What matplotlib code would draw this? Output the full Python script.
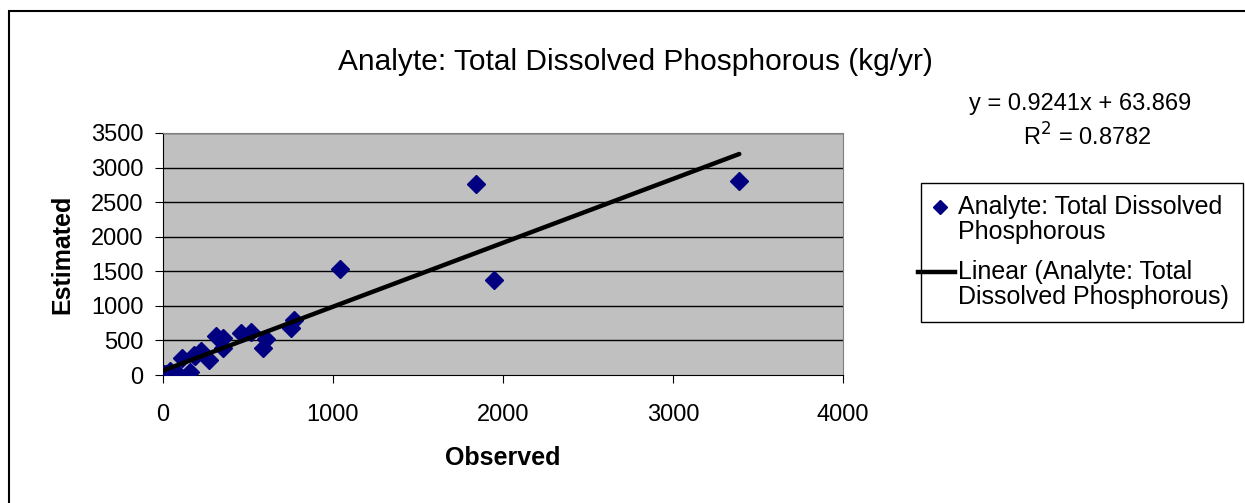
import numpy as np
import matplotlib.pyplot as plt
from matplotlib.patches import Rectangle
from matplotlib.lines import Line2D

plt.rcParams['font.family'] = ['Liberation Sans', 'DejaVu Sans']

# Observed vs estimated loads (kg/yr)
observed = [0, 5, 20, 40, 82, 110, 160, 185, 190, 225, 270, 310, 350, 355,
            460, 515, 590, 605, 750, 770, 1040, 1840, 1945, 3390]
estimated = [0, 10, 15, 55, 29, 250, 45, 290, 280, 340, 220, 560, 390, 540,
             610, 620, 385, 520, 680, 800, 1535, 2760, 1370, 2800]

# Excel linear trend line
slope = 0.9241
intercept = 63.869
r_squared = 0.8782

x_ticks = [0, 1000, 2000, 3000, 4000]
y_ticks = [0, 500, 1000, 1500, 2000, 2500, 3000, 3500]

series_label = ['Analyte: Total Dissolved', 'Phosphorous']
trend_label = ['Linear (Analyte: Total', 'Dissolved Phosphorous)']

W, H = 1245, 503


def fx(px):
    return px / W


def fy(py):
    return 1 - py / H


fig = plt.figure(figsize=(12.45, 5.03), dpi=100)
ax = fig.add_axes([fx(163), fy(375), 680 / W, 242 / H])
ax.set_facecolor('#C0C0C0')

for yt in y_ticks[1:]:
    ax.axhline(yt, color='black', lw=1, zorder=1)

ax.plot(observed, estimated, linestyle='none', marker='D', ms=9.5,
        color='#000080', zorder=3)

xs = np.array([min(observed), max(observed)])
ax.plot(xs, slope * xs + intercept, color='black', lw=3.2, zorder=4,
        solid_capstyle='round')

ax.set_xlim(0, 4000)
ax.set_ylim(0, 3500)
ax.set_xticks(x_ticks)
ax.set_yticks(y_ticks)
ax.tick_params(labelsize=17, length=6, direction='out', color='black')
ax.tick_params(axis='x', pad=15)
ax.tick_params(axis='y', pad=8)

for side in ['top', 'right']:
    ax.spines[side].set_color('#808080')
for side in ['left', 'bottom']:
    ax.spines[side].set_color('black')

ax.set_xlabel('Observed', fontsize=18, fontweight='bold', labelpad=14)
ax.set_ylabel('Estimated', fontsize=18, fontweight='bold', labelpad=12)

fig.text(0.510, fy(62), 'Analyte: Total Dissolved Phosphorous (kg/yr)',
         ha='center', va='center', fontsize=21.5)
fig.text(fx(1080), fy(104), f'y = {slope}x + {intercept}',
         ha='center', va='center', fontsize=17)
fig.text(fx(1087), fy(137), f'R$^2$ = {r_squared}',
         ha='center', va='center', fontsize=17)

# legend, laid out like Excel's (symbol level with first text line)
fig.patches.append(Rectangle((fx(921), fy(322)), 322 / W, 139 / H,
                             transform=fig.transFigure, facecolor='white',
                             edgecolor='black', lw=1, zorder=0))
fig.add_artist(Line2D([fx(940)], [fy(207)], transform=fig.transFigure,
                      linestyle='none', marker='D', ms=7.5, color='#000080'))
fig.add_artist(Line2D([fx(918), fx(955)], [fy(272), fy(272)],
                      transform=fig.transFigure, color='black', lw=3.2))
for i, line in enumerate(series_label):
    fig.text(fx(958), fy(207 + 25 * i), line, va='center', fontsize=18)
for i, line in enumerate(trend_label):
    fig.text(fx(958), fy(272 + 25 * i), line, va='center', fontsize=18)

# outer chart border (top and left visible)
fig.patches.append(Rectangle((fx(9), -0.1), 1.2, fy(11) + 0.1,
                             transform=fig.transFigure, fill=False,
                             edgecolor='black', lw=1.5))

fig.savefig('out.png', dpi=100)
